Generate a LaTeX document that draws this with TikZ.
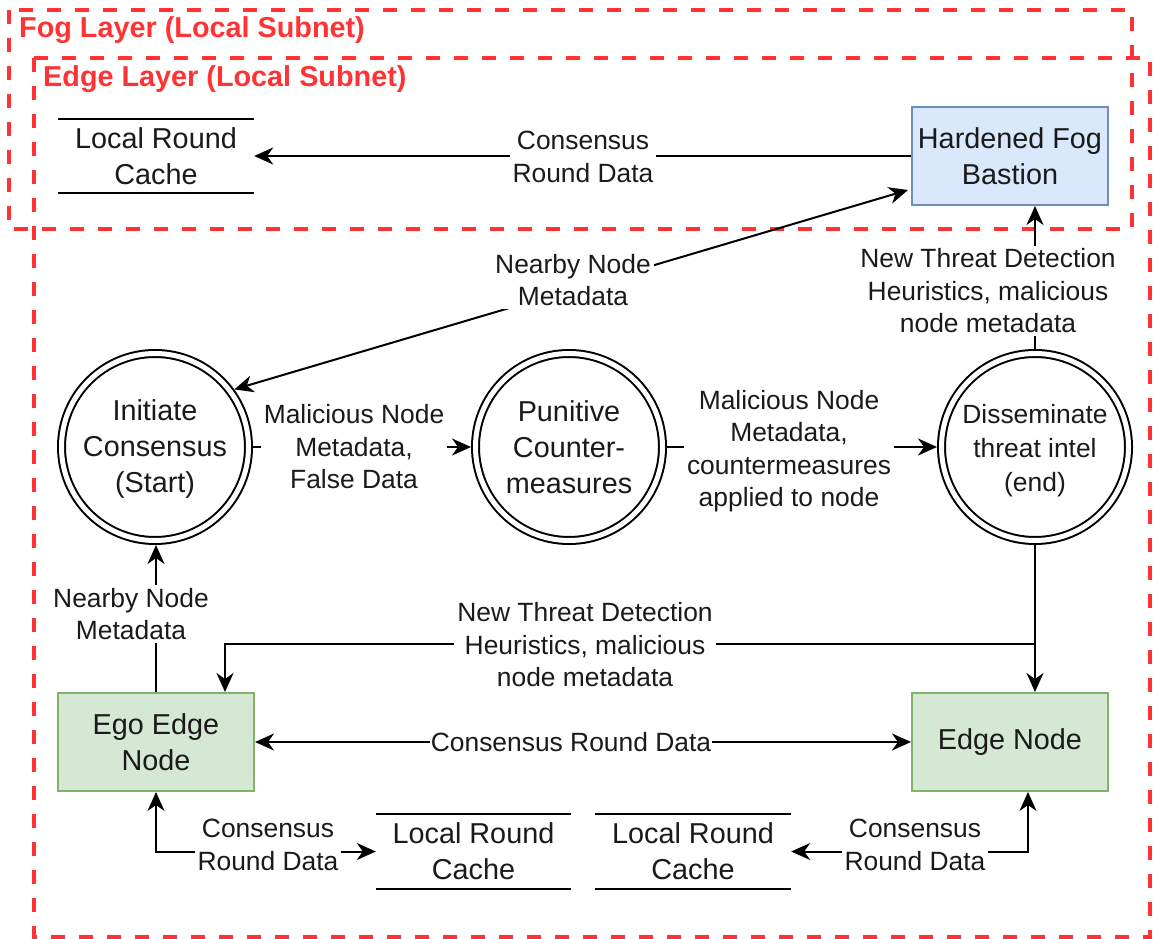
\documentclass[tikz,border=0pt]{standalone}
\usepackage{fontspec}
\setmainfont{Liberation Sans}
\usetikzlibrary{arrows.meta}
\definecolor{redc}{HTML}{FF3333}
\definecolor{greenf}{HTML}{D5E8D4}
\definecolor{greend}{HTML}{82B366}
\definecolor{bluef}{HTML}{DAE8FC}
\definecolor{blued}{HTML}{6C8EBF}
\definecolor{txt}{HTML}{1A1A1A}
\newcommand\nfont{\fontsize{28.8}{36}\selectfont}
\newcommand\sfont{\fontsize{26.4}{34}\selectfont}
\newcommand\lfont{\fontsize{26.4}{32.5}\selectfont}
\newcommand\tfont{\fontsize{28.8}{34}\selectfont\bfseries}
\begin{document}
\begin{tikzpicture}[x=1pt,y=-1pt,
  layerbox/.style={draw=redc,line width=4pt,dash pattern=on 14pt off 14pt},
  ttl/.style={text=redc,font=\tfont,anchor=west,inner sep=0pt},
  boxnode/.style={draw,line width=2pt,minimum width=196pt,minimum height=98pt,inner sep=0pt,font=\nfont,align=center,text=txt},
  greenbox/.style={boxnode,fill=greenf,draw=greend},
  bluebox/.style={boxnode,fill=bluef,draw=blued},
  statenode/.style={circle,draw,double,double distance=5pt,line width=2pt,minimum size=187pt,inner sep=0pt,outer sep=4.5pt},
  cache/.style={minimum width=196pt,minimum height=74pt,inner sep=0pt,font=\nfont,align=center,text=txt},
  cacheline/.style={line width=2pt},
  conn/.style={line width=2pt,-{Stealth[length=19pt 0,width=17pt 0,inset=6pt 0]}},
  biconn/.style={line width=2pt,{Stealth[length=19pt 0,width=17pt 0,inset=6pt 0]}-{Stealth[length=19pt 0,width=17pt 0,inset=6pt 0]}},
  lbl/.style={fill=white,font=\lfont,align=center,inner sep=3pt,text=txt},
]
\useasboundingbox (0,0) rectangle (1154,939);
\fill[white] (0,0) rectangle (1154,939);

% layers
\draw[layerbox] (9,10) rectangle (1132,229);
\draw[layerbox] (34,58) rectangle (1150,937);
\node[ttl] (fogt) at (19,30) {Fog Layer (Local Subnet)};
\node[ttl] (edget) at (43,79) {Edge Layer (Local Subnet)};

% nodes
\node[cache] (c1) at (156,156) {Local Round\\Cache};
\draw[cacheline] (c1.north west) -- (c1.north east);
\draw[cacheline] (c1.south west) -- (c1.south east);
\node[cache,minimum width=195pt] (c2) at (473.5,851.5) {Local Round\\Cache};
\draw[cacheline] (c2.north west) -- (c2.north east);
\draw[cacheline] (c2.south west) -- (c2.south east);
\node[cache,minimum width=196pt] (c3) at (693,851.5) {Local Round\\Cache};
\draw[cacheline] (c3.north west) -- (c3.north east);
\draw[cacheline] (c3.south west) -- (c3.south east);

\node[bluebox] (bastion) at (1010,156) {Hardened Fog\\Bastion};
\node[greenbox] (ego) at (156,742) {Ego Edge\\Node};
\node[greenbox] (edge) at (1010,742) {Edge Node};

\node[statenode,label={[font=\nfont,align=center,text=txt,yshift=-2pt]center:{Initiate\\Consensus\\(Start)}}] (init) at (155,447) {};
\node[statenode,label={[font=\nfont,align=center,text=txt]center:{Punitive\\Counter-\\measures}}] (pun) at (569,447) {};
\node[statenode,label={[font=\sfont,align=center,text=txt,yshift=-4pt]center:{Disseminate\\threat intel\\(end)}}] (diss) at (1035,447) {};

% connectors
\draw[conn] (bastion.west) -- (c1.east);
\coordinate (bIn) at (908,190);
\draw[biconn] (init.36.87) -- (bIn);
\draw[conn] (init.east) -- (pun.west);
\draw[conn] (pun.east) -- (diss.west);
\draw[conn] (diss.north) -- (diss.north |- bastion.south);
\draw[conn] (ego.north) -- (ego.north |- init.south);
\coordinate (j1) at (1035,644);
\coordinate (egoIn) at (225,692);
\draw[conn] (diss.south) -- (j1) -| (egoIn);
\draw[conn] (diss.south) -- (diss.south |- edge.north);
\draw[biconn] (ego.east) -- (edge.west);
\draw[biconn] (ego.south) |- (c2.west);
\coordinate (eS) at (1028,792);
\draw[biconn] (eS) |- (c3.east);

% labels
\node[lbl] (l1) at (583,157) {Consensus\\Round Data};
\node[lbl] (l2) at (573,280) {Nearby Node\\Metadata};
\node[lbl] (l3) at (988,291) {New Threat Detection\\Heuristics, malicious\\node metadata};
\node[lbl] (l4) at (354,447) {Malicious Node\\Metadata,\\False Data};
\node[lbl] (l5) at (789,451) {Malicious Node\\Metadata,\\countermeasures\\applied to node};
\node[lbl] (l6) at (131,614) {Nearby Node\\Metadata};
\node[lbl] (l7) at (585,645) {New Threat Detection\\Heuristics, malicious\\node metadata};
\node[lbl,inner sep=1pt] (l8) at (571,742) {Consensus Round Data};
\node[lbl] (l9) at (268,845) {Consensus\\Round Data};
\node[lbl] (l10) at (915,845) {Consensus\\Round Data};
\end{tikzpicture}
\end{document}
